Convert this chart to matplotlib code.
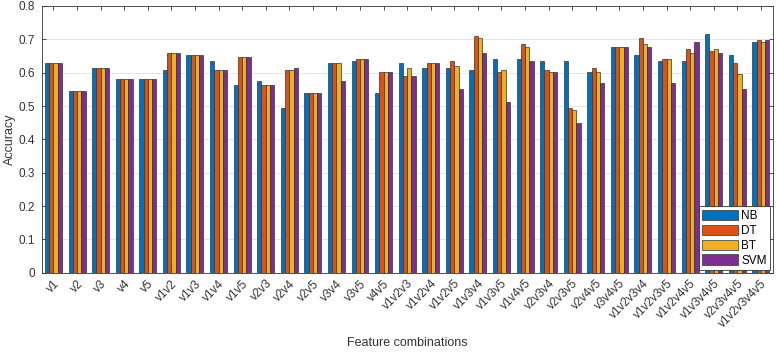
import numpy as np
import matplotlib
matplotlib.use('Agg')
import matplotlib.pyplot as plt

# feature combinations and accuracy per classifier
combos = ['v1', 'v2', 'v3', 'v4', 'v5',
          'v1v2', 'v1v3', 'v1v4', 'v1v5', 'v2v3', 'v2v4', 'v2v5', 'v3v4', 'v3v5', 'v4v5',
          'v1v2v3', 'v1v2v4', 'v1v2v5', 'v1v3v4', 'v1v3v5', 'v1v4v5', 'v2v3v4', 'v2v3v5',
          'v2v4v5', 'v3v4v5', 'v1v2v3v4', 'v1v2v3v5', 'v1v2v4v5', 'v1v3v4v5', 'v2v3v4v5',
          'v1v2v3v4v5']

nb = [0.628, 0.545, 0.615, 0.582, 0.582,
      0.608, 0.652, 0.634, 0.563, 0.576, 0.493, 0.538, 0.628, 0.634, 0.538,
      0.628, 0.615, 0.615, 0.608, 0.640, 0.640, 0.634, 0.634,
      0.602, 0.678, 0.652, 0.634, 0.634, 0.717, 0.652, 0.691]
dt = [0.628, 0.545, 0.615, 0.582, 0.582,
      0.660, 0.652, 0.608, 0.646, 0.562, 0.608, 0.538, 0.628, 0.640, 0.602,
      0.589, 0.628, 0.634, 0.711, 0.602, 0.686, 0.608, 0.493,
      0.615, 0.678, 0.703, 0.640, 0.672, 0.665, 0.628, 0.697]
bt = [0.628, 0.545, 0.615, 0.582, 0.582,
      0.660, 0.652, 0.608, 0.646, 0.562, 0.608, 0.538, 0.628, 0.640, 0.602,
      0.615, 0.628, 0.621, 0.703, 0.608, 0.678, 0.602, 0.487,
      0.602, 0.678, 0.685, 0.640, 0.659, 0.672, 0.595, 0.691]
svm = [0.628, 0.545, 0.615, 0.582, 0.582,
       0.660, 0.652, 0.608, 0.646, 0.562, 0.615, 0.538, 0.576, 0.640, 0.602,
       0.589, 0.628, 0.551, 0.660, 0.512, 0.634, 0.602, 0.448,
       0.570, 0.678, 0.678, 0.570, 0.691, 0.659, 0.551, 0.698]

series = [('NB', nb), ('DT', dt), ('BT', bt), ('SVM', svm)]
colors = ['#0072BD', '#D95319', '#EDB120', '#7E2F8E']

plt.rcParams['font.family'] = ['Liberation Sans', 'DejaVu Sans']
txt = '#333333'

fig = plt.figure(figsize=(7.76, 3.52), dpi=100)
ax = fig.add_axes([0.0537, 0.2253, 0.942, 0.7577])

x = np.arange(len(combos))
w = 0.18
for i, (name, vals) in enumerate(series):
    ax.bar(x + (i - 1.5) * w, vals, w, color=colors[i], edgecolor='#333333',
           linewidth=0.5, label=name, zorder=3)

ax.set_xlim(-0.5, len(combos) - 0.5)
ax.set_ylim(0, 0.8)
ax.set_yticks(np.arange(0, 0.81, 0.1))
ax.set_yticklabels(['0', '0.1', '0.2', '0.3', '0.4', '0.5', '0.6', '0.7', '0.8'])
ax.set_xticks(x)
ax.set_xticklabels(combos, rotation=45, ha='right', rotation_mode='anchor')
ax.tick_params(direction='in', top=True, right=True, labelsize=8.5, colors=txt,
               length=3, width=0.6)
ax.tick_params(axis='y', pad=5)
ax.yaxis.grid(True, color='#e0e0e0', linewidth=0.6, zorder=0)
for s in ax.spines.values():
    s.set_color('#333333')
    s.set_linewidth(0.6)

ax.set_ylabel('Accuracy', fontsize=9, color=txt, va='center')
ax.yaxis.set_label_coords(-0.044, 0.5)
ax.set_xlabel('Feature combinations', fontsize=9, color=txt, va='center')
ax.xaxis.set_label_coords(0.5, -0.263)

leg = ax.legend(loc='lower right', fontsize=8.5, frameon=True, fancybox=False,
                borderaxespad=0.2, handlelength=3.0, handleheight=1.0,
                labelspacing=0.22, handletextpad=0.3, borderpad=0.3)
leg.get_frame().set_edgecolor('#333333')
leg.get_frame().set_linewidth(0.6)
leg.get_frame().set_alpha(1)

fig.savefig('out.png', dpi=100)
